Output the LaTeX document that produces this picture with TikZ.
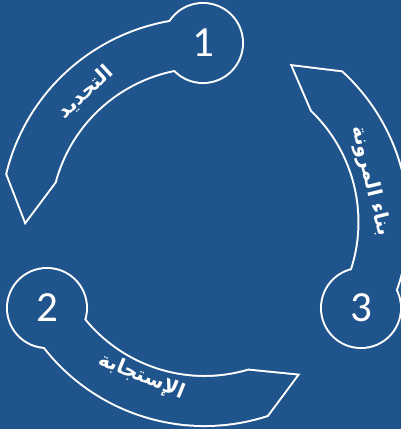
\documentclass[tikz,border=0pt]{standalone}
\usepackage{fontspec}
\TeXXeTstate=1
\newfontfamily\arabicfont[Script=Arabic]{DejaVu Sans}
\newfontfamily\numfont{Carlito}
\definecolor{bgblue}{RGB}{31,84,140}
\newcommand\mybandpath[4]{(#1:203) arc[start angle=#1,end angle=#2,radius=203] -- (#4:179) -- (#3:155) arc[start angle=#3,end angle=#1,radius=155] -- cycle}
\tikzset{
  outl/.style={draw=white,line width=4pt,line join=miter},
  numtxt/.style={text=white,font=\numfont\fontsize{43}{43}\selectfont,inner sep=0pt},
  artxt/.style={text=white,font=\arabicfont\bfseries\fontsize{20}{20}\selectfont,inner sep=0pt}
}
\begin{document}
\begin{tikzpicture}[x=1pt,y=1pt]
\fill[bgblue] (-204.5,-207) rectangle (196.5,222);
\useasboundingbox (-204.5,-207) rectangle (196.5,222);
\coordinate (p1) at (-1.5,179);
\coordinate (p2) at (-157.5,-86);
\coordinate (p3) at (156.5,-86);
% outlines (doubled width, inner half covered by fill)
\draw[outl] \mybandpath{90.5}{166.3}{165}{179.7};
\draw[outl] \mybandpath{-28.8}{47.5}{46.2}{60.4};
\draw[outl] \mybandpath{208.6}{288}{286.5}{301};
\draw[outl] (p1) circle[radius=39];
\draw[outl] (p2) circle[radius=39];
\draw[outl] (p3) circle[radius=39];
\fill[bgblue] \mybandpath{90.5}{166.3}{165}{179.7};
\fill[bgblue] \mybandpath{-28.8}{47.5}{46.2}{60.4};
\fill[bgblue] \mybandpath{208.6}{288}{286.5}{301};
\fill[bgblue] (p1) circle[radius=39];
\fill[bgblue] (p2) circle[radius=39];
\fill[bgblue] (p3) circle[radius=39];
% numbers
\node[numtxt] (n1) at (p1) {1};
\node[numtxt] (n2) at (p2) {2};
\node[numtxt] (n3) at (p3) {3};
% labels
\node[artxt,rotate=42.6] (t1) at (132.6:176) {\beginR التحديد\endR};
\node[artxt,rotate=-76.2] (t3) at (13.8:171) {\beginR بناء المرونة\endR};
\node[artxt,rotate=-22.2] (t2) at (247.8:167) {\beginR الإستجابة\endR};
\end{tikzpicture}
\end{document}
